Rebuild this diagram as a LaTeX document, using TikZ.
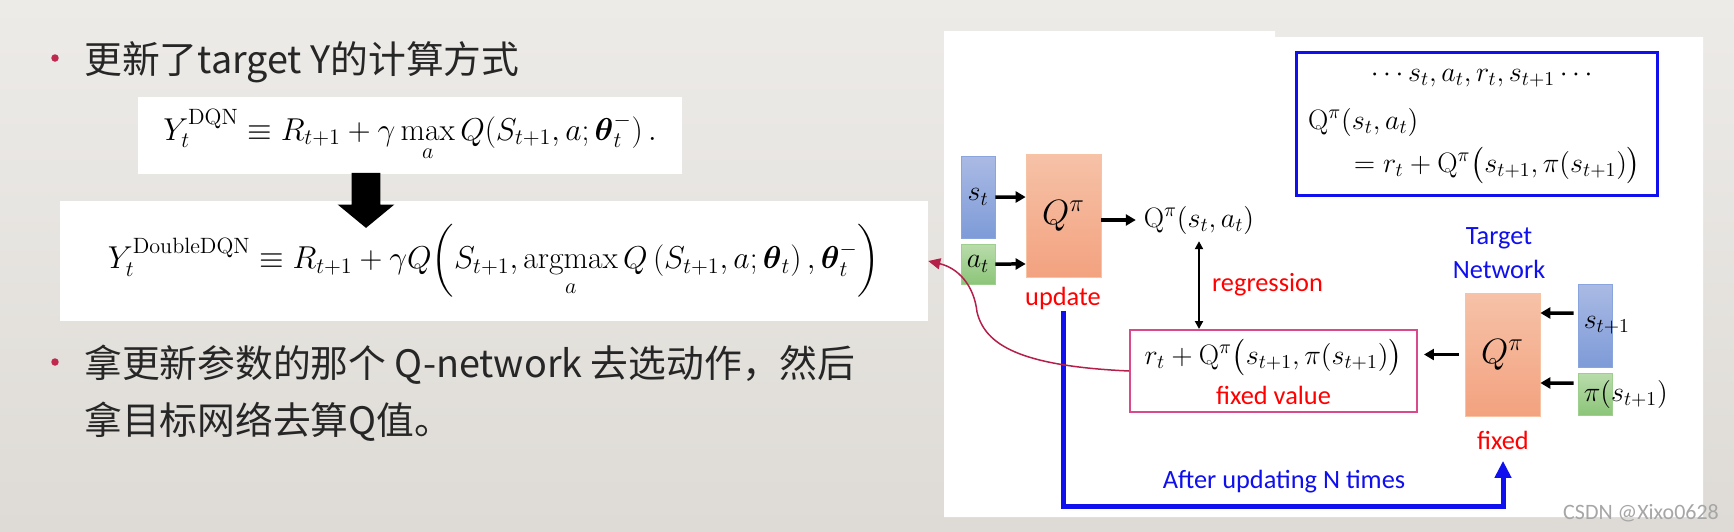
\RequirePackage{fix-cm}
\documentclass[tikz,border=0pt]{standalone}
\usepackage{amsmath}
\usepackage{fontspec}
\newfontfamily\cjkfont{Noto Sans CJK SC}
\newfontfamily\labelfont{Carlito}
\usetikzlibrary{arrows.meta, positioning, shapes.arrows}

\definecolor{bgtop}{HTML}{EDEBE8}
\definecolor{bgbot}{HTML}{DEDBD6}
\definecolor{bulletred}{HTML}{C0284E}
\definecolor{sTop}{HTML}{AABAE4}
\definecolor{sBot}{HTML}{7E9BD8}
\definecolor{sLine}{HTML}{8AA4DD}
\definecolor{aTop}{HTML}{B9DCAB}
\definecolor{aBot}{HTML}{8CC579}
\definecolor{aLine}{HTML}{9FCF8E}
\definecolor{qTop}{HTML}{F6C2A8}
\definecolor{qBot}{HTML}{F3A27F}
\definecolor{qLine}{HTML}{F6C3A4}
\definecolor{pinkline}{HTML}{D84A8C}
\definecolor{linkred}{HTML}{B5204A}
\definecolor{netblue}{HTML}{1010EE}

\begin{document}
\begin{tikzpicture}[
	x=0.02cm, y=-0.02cm,
	>=Stealth,
	cjk/.style={
		font=\cjkfont\fontsize{21.5}{32.4}\selectfont,
		text=black!85,
		inner sep=0pt,
		anchor=west,
		align=left
	},
	dot/.style={
		circle,
		fill=bulletred,
		inner sep=0pt,
		minimum size=0.15cm
	},
	formula/.style={
		fill=white,
		inner sep=0pt,
		font=\fontsize{18}{21}\selectfont
	},
	bigarrow/.style={
		single arrow,
		fill=black,
		rotate=-90,
		inner xsep=0pt,
		inner ysep=0.28cm,
		minimum height=1.1cm,
		single arrow head extend=0.28cm,
		single arrow tip angle=101
	},
	sbox/.style={
		draw=sLine,
		top color=sTop,
		bottom color=sBot,
		minimum width=0.68cm,
		inner sep=0pt,
		font=\fontsize{16}{19}\selectfont
	},
	abox/.style={
		draw=aLine,
		top color=aTop,
		bottom color=aBot,
		minimum width=0.68cm,
		inner sep=0pt,
		font=\fontsize{16}{19}\selectfont
	},
	qbox/.style={
		draw=qLine,
		top color=qTop,
		bottom color=qBot,
		minimum width=1.5cm,
		minimum height=2.46cm,
		inner sep=0pt,
		font=\fontsize{20}{24}\selectfont
	},
	mathlbl/.style={
		inner sep=1pt,
		font=\fontsize{16}{19}\selectfont
	},
	word/.style={
		inner sep=1pt,
		font=\labelfont\fontsize{15}{19}\selectfont
	},
	arr/.style={
		-{Triangle[width=0.22cm,length=0.2cm]},
		line width=0.07cm
	}
	]

	%------------------------------------------------
	% BACKGROUND
	%------------------------------------------------

	\shade[top color=bgtop, bottom color=bgbot] (0,0) rectangle (1734,531);
	\useasboundingbox (0,0) rectangle (1734,531);
	\fill[white] (944,31) -- (1275,31) -- (1275,37) -- (1703,37)
		-- (1703,517) -- (944,517) -- cycle;

	%------------------------------------------------
	% LEFT COLUMN (slide text)
	%------------------------------------------------

	\node[dot] (b1) at (55,58) {};
	\node[cjk] (line1) at (84,62) {更新了target Y的计算方式};

	\node[
	formula,
	minimum width=10.88cm,
	minimum height=1.54cm
	] (dqn) at (410,135.5)
	{$\displaystyle Y_t^{\mathrm{DQN}} \equiv R_{t+1} + \gamma \max_a Q(S_{t+1}, a; \boldsymbol{\theta}_t^-)\,.$};

	\node[
	formula,
	minimum width=17.36cm,
	minimum height=2.4cm
	] (ddqn) at (494,261)
	{$\displaystyle Y_t^{\mathrm{DoubleDQN}} \equiv R_{t+1} + \gamma Q\biggl(S_{t+1}, \operatorname*{argmax}_a Q\left(S_{t+1}, a; \boldsymbol{\theta}_t\right), \boldsymbol{\theta}_t^-\biggr)$};

	\node[bigarrow] (down) at (366,194.5) {};

	\node[dot] (b2) at (55,362) {};
	\node[cjk] (line2) at (84,393.5)
	{拿更新参数的那个 Q-network 去选动作，然后\\拿目标网络去算Q值。};

	%------------------------------------------------
	% RIGHT PANEL (online network)
	%------------------------------------------------

	\node[
	draw=netblue,
	line width=0.06cm,
	minimum width=7.24cm,
	minimum height=2.88cm
	] (memo) at (1477,124) {};

	\node[mathlbl] (seq) at (1484,78) {$\cdots s_t, a_t, r_t, s_{t+1} \cdots$};
	\node[mathlbl, anchor=west] (bell1) at (1306,122) {$\mathrm{Q}^{\pi}(s_t, a_t)$};
	\node[mathlbl, anchor=east] (bell2) at (1643,165)
	{$= r_t + \mathrm{Q}^{\pi}\bigl(s_{t+1}, \pi(s_{t+1})\bigr)$};

	\node[sbox, minimum height=1.64cm] (st) at (978,197) {$s_t$};
	\node[abox, minimum height=0.8cm] (at) at (978,264) {$a_t$};
	\node[qbox] (qnet) at (1063.5,215.5) {$Q^{\pi}$};
	\node[word, text=red] (upd) at (1063,298) {update};

	\node[mathlbl] (qsa) at (1199,220) {$\mathrm{Q}^{\pi}(s_t, a_t)$};

	\draw[arr] (st.east) -- ([yshift=0.37cm]qnet.west);
	\draw[arr] (at.east) -- ([yshift=-0.97cm]qnet.west);
	\draw[arr] (qsa.west -| qnet.east) -- ([xshift=-0.12cm]qsa.west);

	%------------------------------------------------
	% TARGET SIDE
	%------------------------------------------------

	\node[
	draw=pinkline,
	line width=0.04cm,
	minimum width=5.74cm,
	minimum height=1.64cm
	] (target) at (1273.5,371) {};
	\node[mathlbl] (tgtval) at ([yshift=0.28cm]target.center)
	{$r_t + \mathrm{Q}^{\pi}\bigl(s_{t+1}, \pi(s_{t+1})\bigr)$};
	\node[word, text=red] (fixval) at ([yshift=-0.48cm]target.center) {fixed value};

	\draw[{Triangle[width=0.16cm,length=0.16cm]}-{Triangle[width=0.16cm,length=0.16cm]},
	line width=0.04cm, shorten <=0.1cm]
	(qsa.south) -- (qsa.south |- target.north);
	\node[word, text=red, anchor=west] (regr) at (1210,285) {regression};

	\node[word, text=netblue, align=center] (tnet) at (1499,253) {Target\\Network};
	\node[qbox] (qfix) at (1502.5,354.5) {$Q^{\pi}$};
	\node[word, text=red] (fix) at (1503,440) {fixed};

	\node[sbox, minimum height=1.66cm] (snext) at (1595,325.5) {};
	\node[mathlbl, anchor=west] (snextl) at ([xshift=0.08cm]snext.west) {$s_{t+1}$};
	\node[abox, minimum height=0.84cm] (pinext) at (1595,394) {};
	\node[mathlbl, anchor=west] (pinextl) at ([xshift=0.08cm]pinext.west) {$\pi(s_{t+1})$};

	\draw[arr, shorten <=0.08cm] ([yshift=0.25cm]snext.west) -- ([yshift=0.83cm]qfix.east);
	\draw[arr, shorten <=0.08cm] ([yshift=0.22cm]pinext.west) -- ([yshift=-0.57cm]qfix.east);
	\draw[arr, shorten <=0.12cm, shorten >=0.12cm] (qfix.west) -- (qfix.west -| target.east);

	%------------------------------------------------
	% COPY WEIGHTS ARROW
	%------------------------------------------------

	\coordinate (base) at (1283,506);
	\draw[-{Triangle[width=0.32cm,length=0.34cm]}, netblue, line width=0.1cm,
	shorten >=0.19cm]
	(upd.south) |- (base) -| (fix.south);
	\node[word, text=netblue] (after) at (1284,482) {After updating N times};

	%------------------------------------------------
	% LINK BACK TO FORMULA
	%------------------------------------------------

	\draw[-{Triangle[width=0.22cm,length=0.24cm]}, linkred, line width=0.03cm]
	(target.west) .. controls (1020,366) and (985,345) .. (977,312)
	.. controls (974,285) and (958,268) .. (ddqn.east);

	\node[word, text=gray!70, font=\labelfont\fontsize{12.5}{15}\selectfont] (mark) at (1641,513) {CSDN @Xixo0628};

\end{tikzpicture}
\end{document}
